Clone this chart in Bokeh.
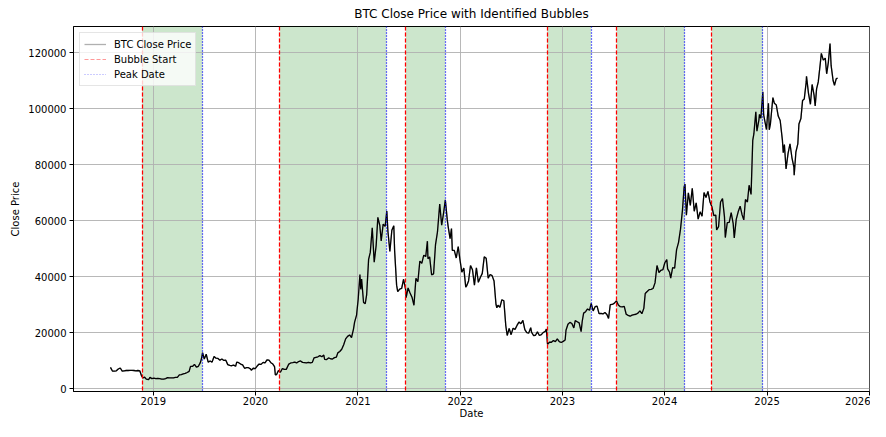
import pandas as pd
from bokeh.plotting import figure
from bokeh.models import (BoxAnnotation, Legend, LegendItem, FixedTicker,
                          DatetimeTickFormatter, BasicTickFormatter, Range1d)
from bokeh.embed import file_html
from bokeh.resources import INLINE

# ---------------- data ----------------
price_dates = [
    "2018-08-01", "2018-08-08", "2018-08-15", "2018-08-22", "2018-08-29", "2018-09-05", "2018-09-12",
    "2018-09-19", "2018-09-26", "2018-10-03", "2018-10-10", "2018-10-17", "2018-10-24", "2018-10-31",
    "2018-11-07", "2018-11-14", "2018-11-20", "2018-11-25", "2018-12-01", "2018-12-07", "2018-12-15",
    "2018-12-20", "2018-12-27",
    "2019-01-03", "2019-01-10", "2019-01-17", "2019-01-24", "2019-01-31", "2019-02-07", "2019-02-14",
    "2019-02-21", "2019-02-28", "2019-03-07", "2019-03-14", "2019-03-21", "2019-03-28", "2019-04-04",
    "2019-04-11", "2019-04-18", "2019-04-25", "2019-05-02", "2019-05-09", "2019-05-14", "2019-05-21",
    "2019-05-28", "2019-06-04", "2019-06-11", "2019-06-18", "2019-06-22", "2019-06-26", "2019-07-02",
    "2019-07-09", "2019-07-16", "2019-07-23", "2019-07-30", "2019-08-06", "2019-08-13", "2019-08-20",
    "2019-08-27", "2019-09-03", "2019-09-10", "2019-09-17", "2019-09-24", "2019-10-01", "2019-10-08",
    "2019-10-15", "2019-10-22", "2019-10-26", "2019-11-02", "2019-11-09", "2019-11-16", "2019-11-23",
    "2019-11-30", "2019-12-07", "2019-12-14", "2019-12-17", "2019-12-24", "2019-12-31",
    "2020-01-07", "2020-01-14", "2020-01-21", "2020-01-28", "2020-02-04", "2020-02-11", "2020-02-18",
    "2020-02-25", "2020-03-03", "2020-03-09", "2020-03-12", "2020-03-16", "2020-03-23", "2020-03-30",
    "2020-04-06", "2020-04-13", "2020-04-20", "2020-04-29", "2020-05-06", "2020-05-13", "2020-05-20",
    "2020-05-27", "2020-06-03", "2020-06-10", "2020-06-17", "2020-06-24", "2020-07-01", "2020-07-08",
    "2020-07-15", "2020-07-22", "2020-07-28", "2020-08-04", "2020-08-11", "2020-08-18", "2020-08-25",
    "2020-09-01", "2020-09-04", "2020-09-11", "2020-09-18", "2020-09-25", "2020-10-02", "2020-10-09",
    "2020-10-16", "2020-10-21", "2020-10-28", "2020-11-04", "2020-11-11", "2020-11-18", "2020-11-25",
    "2020-12-02", "2020-12-09", "2020-12-16", "2020-12-20", "2020-12-27",
    "2021-01-02", "2021-01-08", "2021-01-11", "2021-01-14", "2021-01-21", "2021-01-27", "2021-02-01",
    "2021-02-08", "2021-02-14", "2021-02-21", "2021-02-28", "2021-03-07", "2021-03-13", "2021-03-20",
    "2021-03-25", "2021-04-01", "2021-04-08", "2021-04-14", "2021-04-18", "2021-04-25", "2021-05-02",
    "2021-05-09", "2021-05-12", "2021-05-19", "2021-05-23", "2021-05-30", "2021-06-06", "2021-06-13",
    "2021-06-20", "2021-06-22", "2021-06-29", "2021-07-06", "2021-07-13", "2021-07-20", "2021-07-27",
    "2021-08-03", "2021-08-10", "2021-08-17", "2021-08-24", "2021-08-31", "2021-09-06", "2021-09-08",
    "2021-09-14", "2021-09-21", "2021-09-28", "2021-10-05", "2021-10-12", "2021-10-20", "2021-10-27",
    "2021-11-03", "2021-11-09", "2021-11-16", "2021-11-19", "2021-11-26", "2021-12-01", "2021-12-04",
    "2021-12-11", "2021-12-18", "2021-12-25", "2021-12-31",
    "2022-01-07", "2022-01-14", "2022-01-21", "2022-01-24", "2022-01-31", "2022-02-07", "2022-02-14",
    "2022-02-21", "2022-02-28", "2022-03-07", "2022-03-14", "2022-03-21", "2022-03-28", "2022-04-04",
    "2022-04-11", "2022-04-18", "2022-04-25", "2022-05-02", "2022-05-09", "2022-05-12", "2022-05-16",
    "2022-05-23", "2022-05-30", "2022-06-06", "2022-06-13", "2022-06-18", "2022-06-25", "2022-07-02",
    "2022-07-09", "2022-07-16", "2022-07-23", "2022-07-30", "2022-08-06", "2022-08-13", "2022-08-20",
    "2022-08-27", "2022-09-03", "2022-09-10", "2022-09-13", "2022-09-20", "2022-09-27", "2022-10-04",
    "2022-10-11", "2022-10-18", "2022-10-25", "2022-11-01", "2022-11-05", "2022-11-09", "2022-11-16",
    "2022-11-23", "2022-11-30", "2022-12-07", "2022-12-14", "2022-12-21", "2022-12-28",
    "2023-01-04", "2023-01-11", "2023-01-14", "2023-01-21", "2023-01-28", "2023-02-04", "2023-02-11",
    "2023-02-16", "2023-02-23", "2023-03-02", "2023-03-09", "2023-03-13", "2023-03-18", "2023-03-25",
    "2023-04-01", "2023-04-08", "2023-04-14", "2023-04-21", "2023-04-28", "2023-05-05", "2023-05-12",
    "2023-05-19", "2023-05-26", "2023-06-02", "2023-06-09", "2023-06-15", "2023-06-21", "2023-06-28",
    "2023-07-05", "2023-07-13", "2023-07-20", "2023-07-27", "2023-08-03", "2023-08-10", "2023-08-17",
    "2023-08-24", "2023-08-31", "2023-09-07", "2023-09-14", "2023-09-21", "2023-09-28", "2023-10-05",
    "2023-10-12", "2023-10-19", "2023-10-24", "2023-10-31", "2023-11-07", "2023-11-14", "2023-11-21",
    "2023-11-28", "2023-12-05", "2023-12-12", "2023-12-19", "2023-12-26",
    "2024-01-02", "2024-01-09", "2024-01-12", "2024-01-19", "2024-01-23", "2024-01-30", "2024-02-06",
    "2024-02-13", "2024-02-20", "2024-02-27", "2024-03-05", "2024-03-11", "2024-03-14", "2024-03-19",
    "2024-03-26", "2024-04-02", "2024-04-09", "2024-04-16", "2024-04-23", "2024-04-30", "2024-05-07",
    "2024-05-14", "2024-05-21", "2024-05-28", "2024-06-04", "2024-06-11", "2024-06-18", "2024-06-25",
    "2024-07-02", "2024-07-05", "2024-07-12", "2024-07-19", "2024-07-26", "2024-08-02", "2024-08-05",
    "2024-08-12", "2024-08-19", "2024-08-26", "2024-09-02", "2024-09-06", "2024-09-13", "2024-09-20",
    "2024-09-27", "2024-10-04", "2024-10-10", "2024-10-16", "2024-10-23", "2024-10-29", "2024-11-05",
    "2024-11-11", "2024-11-15", "2024-11-22", "2024-11-26", "2024-12-03", "2024-12-05", "2024-12-10",
    "2024-12-17", "2024-12-20", "2024-12-27", "2024-12-30",
    "2025-01-06", "2025-01-09", "2025-01-13", "2025-01-20", "2025-01-22", "2025-01-27", "2025-02-03",
    "2025-02-10", "2025-02-17", "2025-02-25", "2025-02-28", "2025-03-04", "2025-03-10", "2025-03-17",
    "2025-03-24", "2025-03-31", "2025-04-07", "2025-04-08", "2025-04-14", "2025-04-21", "2025-04-25",
    "2025-05-02", "2025-05-08", "2025-05-14", "2025-05-21", "2025-05-22", "2025-05-29", "2025-06-05",
    "2025-06-11", "2025-06-18", "2025-06-22", "2025-06-27", "2025-07-03", "2025-07-10", "2025-07-14",
    "2025-07-21", "2025-07-28", "2025-08-02", "2025-08-08", "2025-08-14", "2025-08-18", "2025-08-25",
    "2025-08-30", "2025-09-05", "2025-09-10",
]
price_values = [
    7600, 6300, 6300, 6400, 7050, 7400, 6300,
    6400, 6500, 6500, 6550, 6550, 6500, 6350,
    6500, 6350, 4600, 3900, 4100, 3400, 3200,
    4050, 3600,
    3800, 3600, 3650, 3600, 3450, 3400, 3600,
    3950, 3850, 3900, 3900, 4050, 4050, 4950,
    5050, 5300, 5450, 5800, 6200, 8000, 7950,
    8700, 7700, 8000, 9300, 10700, 12900, 10600,
    12300, 9500, 9900, 9500, 11500, 10900, 10800,
    10200, 10600, 10100, 10200, 8600, 8300, 8200,
    8400, 8000, 9500, 9300, 8800, 8500, 7300,
    7500, 7500, 7100, 6600, 7300, 7200,
    8100, 8800, 8700, 9400, 9200, 10300, 10200,
    9300, 8800, 7900, 4900, 5000, 6500, 5900,
    7200, 6900, 6900, 8800, 9200, 9300, 9500,
    9200, 9700, 9900, 9400, 9300, 9200, 9400,
    9200, 9400, 11000, 11200, 11400, 11800, 11400,
    12000, 10500, 10400, 11000, 10700, 10600, 11100,
    11300, 12800, 13300, 14100, 15700, 17800, 18700,
    19200, 18300, 21300, 23800, 26300,
    32200, 40800, 35500, 39200, 30800, 30400, 33500,
    46200, 48700, 57500, 45200, 51200, 61200, 58300,
    52800, 58800, 58000, 63500, 56200, 49000, 56600,
    58200, 49200, 37000, 34700, 35600, 35800, 39100,
    35600, 32500, 36000, 34200, 32700, 29800, 39400,
    38200, 45600, 44800, 47700, 47200, 52700, 46400,
    47100, 40700, 41000, 51500, 56000, 66000, 58400,
    62900, 67500, 60300, 58000, 53600, 57200, 49400,
    49400, 46700, 50800, 46300,
    41600, 43100, 36300, 36700, 38500, 44000, 42500,
    37000, 43200, 38000, 39700, 41200, 47100, 46600,
    39500, 40800, 40400, 38500, 30100, 28900, 29800,
    29100, 31800, 31400, 22500, 19000, 21500, 19300,
    21600, 21200, 22600, 23800, 23200, 24400, 21100,
    20000, 19900, 21800, 20200, 19000, 19100, 20300,
    19000, 19300, 20100, 20500, 21300, 15900, 16600,
    16600, 17200, 16800, 17800, 16800, 16500,
    16900, 17400, 20900, 23000, 23700, 23300, 21700,
    24300, 23900, 23500, 20400, 24100, 27000, 27500,
    28500, 28000, 30500, 27800, 29300, 29500, 26800,
    26900, 26700, 27200, 26500, 25100, 30000, 30100,
    30500, 31400, 29900, 29300, 29200, 29400, 26600,
    26200, 25900, 26300, 26500, 26600, 27000, 27800,
    26800, 28700, 34000, 34700, 35400, 35500, 35800,
    37800, 44000, 41500, 42300, 42500,
    45000, 46100, 42800, 41600, 39500, 43300, 43100,
    49700, 52300, 57000, 63800, 72100, 73100, 62000,
    70000, 65500, 71600, 63400, 66400, 60600, 63200,
    61600, 70100, 68300, 70500, 66800, 65000, 61800,
    62000, 56700, 57900, 66700, 67900, 61400, 54000,
    59300, 59400, 62900, 59100, 53900, 60500, 63200,
    65200, 62100, 60300, 67600, 66700, 72700, 69400,
    88700, 91000, 98900, 92000, 96000, 98000, 96600,
    106100, 97800, 94200, 92600,
    102000, 92500, 94500, 102000, 104000, 102000, 101400,
    97400, 95800, 88700, 84300, 87200, 78500, 84000,
    87500, 82500, 79200, 76300, 84500, 87500, 94600,
    96500, 103000, 103500, 109600, 111600, 105600, 101600,
    108700, 104900, 101000, 107100, 109600, 116000, 119800,
    117400, 118100, 112500, 116600, 123300, 115400, 110100,
    108400, 110700, 111000,
]

bubble_starts = ["2018-11-22", "2020-03-27", "2021-06-21", "2022-11-08", "2023-07-14", "2024-06-17"]
bubble_peaks = ["2019-06-26", "2021-04-13", "2021-11-09", "2023-04-14", "2024-03-13", "2024-12-17"]

year_ticks = [2019, 2020, 2021, 2022, 2023, 2024, 2025, 2026]
price_ticks = [0, 20000, 40000, 60000, 80000, 100000, 120000]


def ms(d):
    return pd.Timestamp(d).value / 1e6


x_dates = pd.to_datetime(price_dates)
start_ms = [ms(d) for d in bubble_starts]
peak_ms = [ms(d) for d in bubble_peaks]

p = figure(
    width=870, height=421,
    x_axis_type="datetime",
    output_backend="svg",
    toolbar_location=None,
    x_range=Range1d(ms("2018-03-22"), ms("2026-01-02")),
    y_range=Range1d(-1000, 129400),
    min_border_left=73, min_border_right=1, min_border_top=26, min_border_bottom=24,
    title="BTC Close Price with Identified Bubbles",
)
p.background_fill_color = "white"
p.border_fill_color = "white"
p.outline_line_color = "black"
p.outline_line_width = 1

p.title.align = "center"
p.title.vertical_align = "middle"
p.title.text_font = "DejaVu Sans"
p.title.text_font_size = "12px"
p.title.text_font_style = "normal"
p.title.text_color = "black"

# grid
for g in (p.xgrid, p.ygrid):
    g.grid_line_color = "#b0b0b0"
    g.grid_line_width = 1
    g.grid_line_alpha = 0.9

# shaded bubbles (below grid)
for s, e in zip(start_ms, peak_ms):
    p.add_layout(BoxAnnotation(left=s, right=e, fill_color="green", fill_alpha=0.2,
                               line_color=None, level="image"))

# price line (a grey copy underneath serves as the legend sample)
r_price = p.line(x_dates, price_values, line_color="#b0b0b0", line_width=1.3)
p.line(x_dates, price_values, line_color="black", line_width=1.3)

# start / peak lines (faded copies underneath are the legend samples)
r_start = p.vspan(x=start_ms, line_color="red", line_alpha=0.4, line_dash="4 2", line_width=1.2)
r_peak = p.vspan(x=peak_ms, line_color="blue", line_alpha=0.4, line_dash="1 2", line_width=1.2)
p.vspan(x=start_ms, line_color="red", line_alpha=1.0, line_dash="4 2", line_width=1.2)
p.vspan(x=peak_ms, line_color="blue", line_alpha=0.9, line_dash="1 2", line_width=1.2)

legend = Legend(items=[
    LegendItem(label="BTC Close Price", renderers=[r_price]),
    LegendItem(label="Bubble Start", renderers=[r_start]),
    LegendItem(label="Peak Date", renderers=[r_peak]),
], location="top_left")
legend.margin = 6
legend.padding = 4
legend.spacing = 1
legend.glyph_width = 22
legend.glyph_height = 14
legend.label_height = 14
legend.label_standoff = 8
legend.label_text_font = "DejaVu Sans"
legend.label_text_font_size = "10px"
legend.label_text_color = "black"
legend.border_line_color = "#cccccc"
legend.background_fill_alpha = 0.8
p.add_layout(legend)

# axes
p.xaxis.ticker = FixedTicker(ticks=[ms(f"{y}-01-01") for y in year_ticks])
p.xaxis.formatter = DatetimeTickFormatter(years="%Y", months="%Y", days="%Y", hours="%Y")
p.yaxis.ticker = FixedTicker(ticks=price_ticks)
p.yaxis.formatter = BasicTickFormatter(use_scientific=False)
p.xaxis.axis_label = "Date"
p.yaxis.axis_label = "Close Price"
for ax in (p.xaxis[0], p.yaxis[0]):
    ax.axis_line_color = "black"
    ax.major_tick_line_color = "black"
    ax.major_tick_in = 0
    ax.major_tick_out = 4
    ax.minor_tick_line_color = None
    ax.major_label_text_font = "DejaVu Sans"
    ax.major_label_text_font_size = "10px"
    ax.major_label_text_color = "black"
    ax.axis_label_text_font = "DejaVu Sans"
    ax.axis_label_text_font_size = "10px"
    ax.axis_label_text_font_style = "normal"
    ax.axis_label_text_color = "black"
p.xaxis.major_label_standoff = 1
p.xaxis.axis_label_standoff = 0
p.yaxis.major_label_standoff = 3
p.yaxis.axis_label_standoff = 4

open("out.html", "w").write(file_html(p, INLINE))
